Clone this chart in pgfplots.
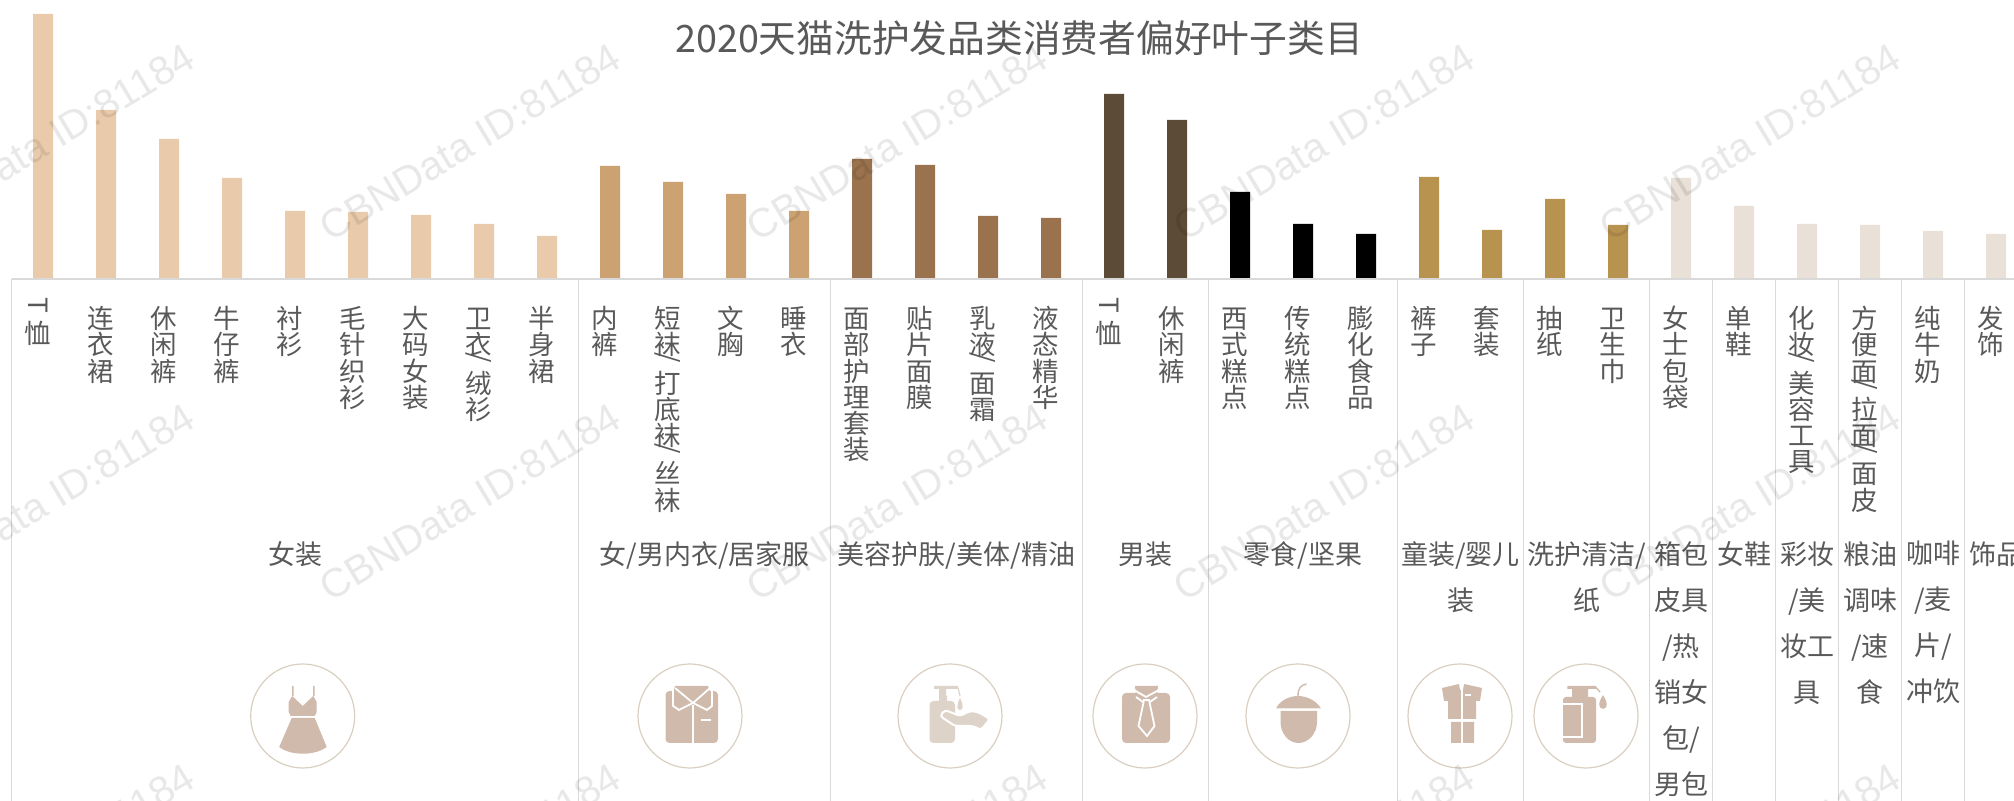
\documentclass[border=0pt]{standalone}
\usepackage{fontspec}
\usepackage{graphicx}
\usepackage{pgfplots}
\pgfplotsset{compat=1.18}
\setmainfont{Noto Sans CJK SC}
\newfontfamily\wmfont{Liberation Sans}
\definecolor{txt}{HTML}{595959}
\definecolor{gridc}{HTML}{D9D9D9}
\definecolor{c1}{HTML}{E9CBAC}
\definecolor{c2}{HTML}{CCA272}
\definecolor{c3}{HTML}{9A724D}
\definecolor{c4}{HTML}{5C4B37}
\definecolor{c5}{HTML}{000000}
\definecolor{c6}{HTML}{B8924F}
\definecolor{c7}{HTML}{E9E0D7}
\definecolor{ring}{HTML}{D9CFC0}
\definecolor{ic}{HTML}{CFBAAC}
\definecolor{icl}{HTML}{DDD3C9}
\newdimen\uu \uu=0.5pt
\protected\def\VC#1{%
  \ifx#1/\hbox to 28\uu{\hss\raisebox{14\uu}[12\uu][0pt]{\hbox to 0pt{\hss\rotatebox{-90}{/}\hss}}\hss}%
  \else\ifx#1T\hbox to 28\uu{\hss\raisebox{20\uu}[20\uu][0pt]{\hbox to 0pt{\hss\rotatebox{-90}{T}\hss}}\hss}%
  \else\hbox to 28\uu{\hss\raisebox{0pt}[26.25\uu][0pt]{#1}\hss}\fi\fi}
\protected\def\VT#1{\ifx#1\relax\else\VC{#1}\expandafter\VT\fi}
\protected\def\VL#1{\vbox{\offinterlineskip\VT#1\relax}}
\protected\def\VLT#1{\vbox{\offinterlineskip\vskip-5\uu\VT#1\relax}}
\begin{document}
\begin{tikzpicture}
\useasboundingbox (0,0) rectangle (1007pt,400.5pt);
\clip (0,0) rectangle (1007pt,400.5pt);
\begin{axis}[
  at={(0,0)},anchor=south west,scale only axis,
  width=1007pt,height=400.5pt,
  xmin=-0.68254,xmax=31.28571,ymin=-522,ymax=279,
  axis x line=middle,axis y line=none,
  x axis line style={draw=none,-},
  hide obscured x ticks=false,
  major tick length=0pt,
  ytick=\empty,
  xtick={0,...,31},
  xticklabels={\VLT{T恤},\VL{连衣裙},\VL{休闲裤},\VL{牛仔裤},\VL{衬衫},\VL{毛针织衫},\VL{大码女装},\VL{卫衣/绒衫},\VL{半身裙},
    \VL{内裤},\VL{短袜/打底袜/丝袜},\VL{文胸},\VL{睡衣},
    \VL{面部护理套装},\VL{贴片面膜},\VL{乳液/面霜},\VL{液态精华},
    \VLT{T恤},\VL{休闲裤},
    \VL{西式糕点},\VL{传统糕点},\VL{膨化食品},
    \VL{裤子},\VL{套装},
    \VL{抽纸},\VL{卫生巾},
    \VL{女士包袋},\VL{单鞋},\VL{化妆/美容工具},\VL{方便面/拉面/面皮},\VL{纯牛奶},\VL{发饰}},
  xticklabel style={font=\fontsize{13.25pt}{13.25pt}\selectfont,text=txt,anchor=north,inner sep=0pt,xshift=-2.5pt,yshift=-11.5pt},
  ybar,bar shift=0pt,bar width=10pt,
  clip=false,
]
\addplot[fill=c1,draw=none] coordinates {(0,265)(1,169)(2,140)(3,101)(4,68)(5,67)(6,64)(7,55)(8,43)};
\addplot[fill=c2,draw=none] coordinates {(9,113)(10,97)(11,85)(12,68)};
\addplot[fill=c3,draw=none] coordinates {(13,120)(14,114)(15,63)(16,61)};
\addplot[fill=c4,draw=none] coordinates {(17,185)(18,159)};
\addplot[fill=c5,draw=none] coordinates {(19,87)(20,55)(21,45)};
\addplot[fill=c6,draw=none] coordinates {(22,102)(23,49)};
\addplot[fill=c6,draw=none] coordinates {(24,80)(25,54)};
\addplot[fill=c7,draw=none] coordinates {(26,101)(27,73)(28,55)(29,54)(30,48)(31,45)};
% axis line and group separators
\draw[gridc,line width=0.8pt] (axis cs:-0.5,0)--(axis cs:31.28571,0);
\pgfplotsinvokeforeach{-0.5,8.5,12.5,16.5,18.5,21.5,23.5,25.5,26.5,27.5,28.5,29.5,30.5}{
  \draw[gridc,line width=0.8pt] (axis cs:#1,0)--(axis cs:#1,-522);
}
\end{axis}
% pixel coordinate frame for text and icons
\begin{scope}[shift={(0,400.5pt)},x=0.5pt,y=-0.5pt]
\node[font=\fontsize{18.87pt}{18.87pt}\selectfont,text=txt,inner sep=0pt] at (1019,38.5) {2020天猫洗护发品类消费者偏好叶子类目};
\tikzset{cat/.style={font=\fontsize{13.5pt}{23pt}\selectfont,text=txt,anchor=north,align=center,inner sep=0pt}}
\node[cat] at (295,541) {女装};
\node[cat] at (704.5,541) {女/男内衣/居家服};
\node[cat] at (956.5,541) {美容护肤/美体/精油};
\node[cat] at (1145.5,541) {男装};
\node[cat] at (1303,541) {零食/坚果};
\node[cat] at (1460.5,541) {童装/婴儿\\装};
\node[cat] at (1586.5,541) {洗护清洁/\\纸};
\node[cat] at (1681,541) {箱包\\皮具\\/热\\销女\\包/\\男包};
\node[cat] at (1744,541) {女鞋};
\node[cat] at (1807,541) {彩妆\\/美\\妆工\\具};
\node[cat] at (1870,541) {粮油\\调味\\/速\\食};
\node[cat] at (1933,541) {咖啡\\/麦\\片/\\冲饮};
\node[cat] at (1996,541) {饰品};
% icon rings
\foreach \cx in {302.7,690,950,1145,1298,1460,1586}
  \draw[ring,line width=0.6pt] (\cx,716) circle[radius=52];
% dress
\begin{scope}[shift={(302.7,716)}]
\fill[ic] (-10.5,-30) rectangle (-9,-20) (10.5,-30) rectangle (12,-20);
\fill[ic] (-10.5,-20)--(0,-10)--(10.5,-20)--(14,-14)--(14,-4)--(12,0)--(-12,0)--(-14,-4)--(-14,-14)--cycle;
\fill[ic] (-11,2)--(12,2)--(24,31)..controls(12,40)and(-12,40)..(-23.5,31)--cycle;
\end{scope}
% shirt
\begin{scope}[shift={(690,716)}]
\fill[ic,rounded corners=2] (-24.5,-25) rectangle (28,27);
\fill[ic] (-15,-30)--(18,-30)--(20,-24)--(-17,-24)--cycle;
\draw[white,line width=0.8pt] (3,-11)--(3,27) (11,4)--(21,4);
\draw[white,line width=0.9pt] (-17,-26)--(-17,-10)--(-11,-6)--(3,-13)--(17,-6)--(22,-10)--(22,-26);
\draw[white,line width=0.9pt] (-15,-28)--(3,-13)--(20,-28);
\end{scope}
% soap and hand
\begin{scope}[shift={(950,716)}]
\fill[icl,rounded corners=2] (-20.5,-15) rectangle (5,27);
\fill[icl] (-11,-20) rectangle (-3,-15) (-11,-30) rectangle (-4,-20) (-16,-30) rectangle (8,-27);
\fill[icl] (10,-18)..controls(6,-10)and(7,-6)..(10,-6)..controls(13,-6)and(14,-10)..(10,-18);
\draw[icl,line width=0.6pt] (8,-28)--(10,-20);
\fill[icl,draw=white,line width=1pt,rounded corners=1.5] (-10,0)--(-5,-6)--(10,0)--(20,-5)--(28,-4)--(40,3)--(31,14)--(23,10)--(5,10)--cycle;
\end{scope}
% shirt and tie
\begin{scope}[shift={(1145,716)}]
\fill[ic,rounded corners=2] (-23,-23) rectangle (25,27);
\fill[ic] (-10,-30)--(13,-30)--(12,-20)--(1,-14)--(-9,-20)--cycle;
\draw[white,line width=0.9pt] (-11,-26)--(1,-19)--(14,-26) (-9,-19)--(-2,-14) (12,-19)--(5,-14);
\draw[white,line width=0.9pt] (-1,-16)--(4,-16)--(9.5,10)--(2,20)--(-6.5,10)--cycle;
\end{scope}
% acorn
\begin{scope}[shift={(1298,716)}]
\draw[ic,line width=0.7pt] (0,-20)..controls(0,-28)and(3,-31)..(8.5,-32);
\fill[ic] (-22,-7.5)..controls(-18,-16)and(-8,-20)..(0,-20)..controls(8,-20)and(18,-16)..(23,-7.5)--cycle;
\fill[ic] (-17.5,-5)--(19,-5)--(19,6)..controls(19,18)and(10,27)..(0.5,27)..controls(-9,27)and(-17.5,18)..(-17.5,6)--cycle;
\end{scope}
% children's set
\begin{scope}[shift={(1460,716)}]
\fill[ic] (-18,-28)--(-1,-32)--(0,-26)--(3,-26)--(4,-32)--(22,-28)--(20,-15)--(16,-15)--(16,3)--(-12,3)--(-12,-15)--(-16,-15)--cycle;
\fill[ic] (-9,6) rectangle (1,27) (3,6) rectangle (14,27);
\draw[white,line width=0.7pt] (2,-30)--(2,3) (5,-21)--(11,-21);
\end{scope}
% bottle
\begin{scope}[shift={(1586,716)}]
\fill[ic] (-18.6,-30) rectangle (10,-27) (-14,-27) rectangle (2,-19);
\fill[ic,rounded corners=1.5] (-23,-19) rectangle (10,27);
\draw[ic,line width=0.7pt] (2,-28.5)--(10,-28.5)--(14,-24);
\fill[ic] (17,-21)..controls(12,-13)and(12,-8)..(17,-7)..controls(22,-8)and(22,-13)..(17,-21);
\draw[white,line width=0.8pt] (-23,-12)--(-4,-12)--(-4,21)--(-23,21);
\end{scope}
% watermark
\foreach \wy in {142,502,862}
  \foreach \wx in {44,470,897,1324,1750}
    \node[font=\wmfont\fontsize{20.2pt}{20.2pt}\selectfont,text=black,text opacity=0.09,rotate=31,inner sep=0pt] at (\wx,\wy) {CBNData ID:81184};
\end{scope}
\end{tikzpicture}
\end{document}
